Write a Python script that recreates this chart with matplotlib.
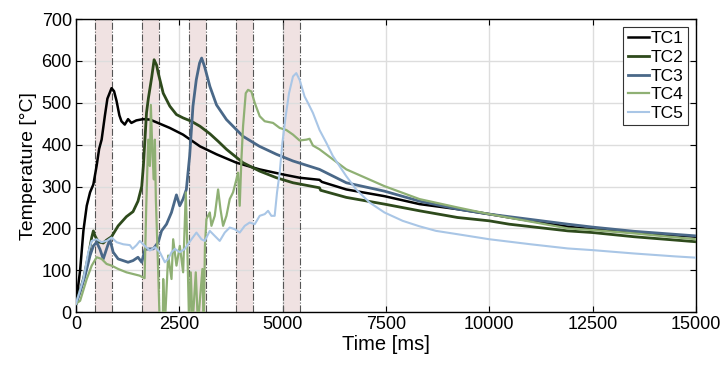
import matplotlib
matplotlib.use('Agg')
import matplotlib.pyplot as plt
import numpy as np

plt.rcParams['font.family'] = ['Liberation Sans', 'DejaVu Sans']

# thermocouple readings
t1 = [0, 100, 180, 260, 340, 420, 500, 560, 620, 700, 760, 860, 920, 980, 1050, 1100, 1180, 1260,
      1340, 1460, 1620, 1790, 2030, 2270, 2590, 3000, 3400, 3880, 4440, 5000, 5410, 5890, 5950,
      6540, 7460, 8310, 9230, 10000, 10480, 11900, 12500, 13500, 15000]
tc1 = [20, 100, 195, 254, 286, 305, 350, 390, 412, 470, 510, 535, 528, 505, 470, 456, 448, 461,
       452, 458, 461, 460, 450, 440, 424, 396, 377, 357, 341, 329, 321, 316, 311,
       293, 277, 258, 246, 234, 226, 204, 198, 190, 180]

t2 = [0, 180, 300, 380, 420, 460, 540, 660, 740, 860, 1020, 1220, 1380, 1500, 1590, 1630, 1706,
      1750, 1830, 1890, 1950, 1990, 2110, 2270, 2430, 2590, 2790, 3000, 3240, 3440, 3640, 4040,
      4440, 4850, 5250, 5890, 5920, 6540, 7460, 8310, 9230, 10000, 10480, 11900, 12500,
      13500, 15000]
tc2 = [20, 79, 135, 178, 194, 182, 168, 165, 172, 180, 206, 228, 240, 265, 300, 349, 476,
       510, 560, 603, 590, 571, 523, 492, 472, 464, 456, 444, 426, 408, 389, 357,
       337, 321, 309, 297, 291, 274, 258, 242, 226, 218, 210, 194, 190,
       180, 168]

t3 = [0, 100, 220, 340, 420, 500, 580, 660, 740, 820, 900, 1020, 1140, 1260, 1380, 1500, 1590,
      1670, 1790, 1870, 1990, 2070, 2190, 2310, 2430, 2510, 2590, 2670, 2750, 2830, 2910, 2990,
      3040, 3110, 3240, 3400, 3640, 4040, 4440, 4850, 5250, 5890, 6540, 7460, 8310, 9230, 10000,
      11900, 12500, 13500, 15000]
tc3 = [20, 48, 87, 135, 158, 167, 150, 127, 151, 174, 143, 127, 123, 119, 123, 131, 119,
       150, 151, 151, 167, 194, 210, 238, 280, 254, 270, 293, 373, 492, 555, 595,
       607, 587, 539, 495, 460, 420, 396, 377, 361, 341, 309, 289, 265, 246, 234,
       210, 203, 193, 182]

t4 = [0, 100, 260, 380, 500, 620, 740, 860, 1020, 1220, 1380, 1540, 1660, 1700, 1747, 1787, 1811,
      1851, 1884, 1908, 1932, 1964, 1989, 2013, 2030, 2100, 2110, 2150, 2230, 2311, 2351, 2431,
      2512, 2592, 2657, 2689, 2737, 2777, 2820, 2898, 2950, 3059, 3090, 3120, 3156, 3237, 3277,
      3357, 3438, 3495, 3559, 3640, 3720, 3800, 3881, 3921, 3961, 4002, 4042, 4107, 4163, 4244,
      4324, 4445, 4566, 4767, 4928, 5089, 5250, 5410, 5571, 5652, 5732, 5890, 6540, 7460,
      8310, 9230, 10000, 11900, 12500, 13500, 15000]
tc4 = [20, 27, 79, 111, 131, 127, 115, 111, 103, 95, 91, 87, 81, 254, 412, 349, 495,
       373, 317, 412, 270, 174, 95, 16, -30, -30, 79, -30, 135, 79, 174, 111,
       158, 95, 286, 174, -30, 95, -30, 95, -30, 103, -30, 158, 222, 238, 206,
       230, 293, 246, 206, 230, 270, 286, 317, 333, 254, 365, 444, 523, 531, 527,
       500, 468, 456, 452, 440, 435, 424, 410, 412, 414, 398, 389, 341, 301,
       270, 250, 234, 200, 196, 188, 174]

t5 = [0, 177, 298, 378, 499, 620, 741, 862, 982, 1143, 1304, 1369, 1465, 1545, 1666, 1787, 1908,
      2029, 2150, 2230, 2311, 2392, 2512, 2633, 2794, 2914, 3035, 3116, 3237, 3357, 3478, 3599,
      3720, 3841, 3961, 4082, 4203, 4324, 4445, 4566, 4647, 4727, 4807, 4864, 4928, 4993, 5073,
      5154, 5250, 5330, 5410, 5531, 5611, 5732, 5893, 6054, 6214, 6537, 6779, 7100, 7462, 7904,
      8308, 8711, 9233, 10000, 11000, 11900, 12500, 13500, 14500, 15000]
tc5 = [20, 79, 143, 170, 174, 167, 170, 178, 167, 162, 160, 151, 160, 170, 158, 147, 155,
       143, 119, 127, 143, 151, 143, 151, 174, 190, 174, 170, 194, 182, 170, 190,
       202, 198, 190, 206, 214, 210, 230, 234, 242, 230, 230, 286, 333, 404, 468,
       523, 563, 571, 555, 515, 500, 476, 435, 405, 373, 325, 293, 262, 238, 218,
       205, 194, 186, 174, 162, 152, 148, 140, 133, 130]

# shaded time windows [ms]
band_start = [450, 1600, 2740, 3870, 5000]
band_end = [870, 2000, 3150, 4290, 5430]

labels = ['TC1', 'TC2', 'TC3', 'TC4', 'TC5']
colors = ['#000000', '#2e4a1c', '#4a6888', '#8fb074', '#a9c6e6']
widths = [1.8, 2.0, 2.0, 1.6, 1.5]

fig = plt.figure(figsize=(7.21, 3.68), dpi=100)
ax = fig.add_axes([0.1054, 0.152, 0.8599, 0.796])

for b0, b1 in zip(band_start, band_end):
    ax.axvspan(b0, b1, color='#f0e2e2', lw=0, zorder=0)
    for xb in (b0, b1):
        ax.axvline(xb, color='#555555', ls='-.', lw=0.8, zorder=1)

series = [(t1, tc1), (t2, tc2), (t3, tc3), (t4, tc4), (t5, tc5)]
for (tt, yy), lab, col, lw in zip(series, labels, colors, widths):
    ax.plot(tt, yy, color=col, lw=lw, label=lab, zorder=3)

ax.set_xlim(0, 15000)
ax.set_ylim(0, 700)
ax.set_xticks(np.arange(0, 15001, 2500))
ax.set_yticks(np.arange(0, 701, 100))
ax.grid(True, color='#dddddd', lw=1.0, zorder=0)
ax.set_axisbelow(True)
ax.tick_params(direction='in', top=True, right=True, length=4, width=0.8, labelsize=13, pad=3)
for sp in ax.spines.values():
    sp.set_linewidth(1.0)

ax.set_xlabel('Time [ms]', fontsize=14.5, labelpad=1)
ax.set_ylabel('Temperature [°C]', fontsize=14, labelpad=3)

leg = ax.legend(loc='upper right', fontsize=12.5, frameon=True, fancybox=False, handlelength=1.25,
                handletextpad=0.1, labelspacing=0.2, borderpad=0.25, borderaxespad=0.45)
leg.get_frame().set_edgecolor('#333333')
leg.get_frame().set_linewidth(0.8)
leg.get_frame().set_alpha(1.0)

fig.savefig('out.png', dpi=100, facecolor='white')
